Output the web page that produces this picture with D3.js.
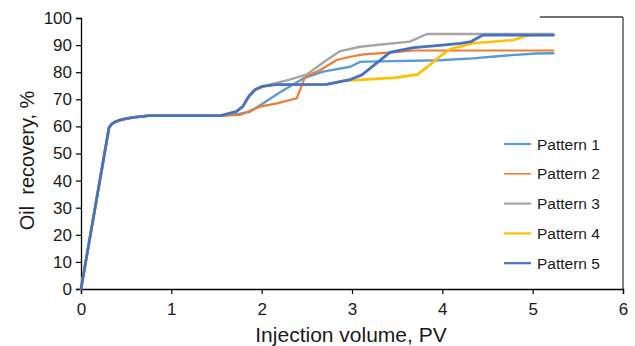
<!DOCTYPE html>
<html>
<head>
<meta charset="utf-8">
<script src="https://cdn.jsdelivr.net/npm/d3@7/dist/d3.min.js"></script>
<style>
  html, body { margin: 0; padding: 0; background: #fff; }
  svg { display: block; font-family: "Liberation Sans", Arial, sans-serif; }
</style>
</head>
<body>
<svg id="chart" width="635" height="346"></svg>
<script>
// ---- data ----
const seriesNames = ["Pattern 1", "Pattern 2", "Pattern 3", "Pattern 4", "Pattern 5"];
const xTicks = [0, 1, 2, 3, 4, 5, 6];
const yTicks = [0, 10, 20, 30, 40, 50, 60, 70, 80, 90, 100];

const pattern1 = [[0,0],[0.31,59.5],[0.34,60.9],[0.38,61.7],[0.43,62.3],[0.5,62.9],[0.6,63.4],[0.76,64],[1.55,64],[1.75,64.6],[1.87,65.4],[2.0,68.2],[2.2,72.5],[2.46,77.7],[2.68,80.2],[2.98,82],[3.09,83.8],[3.3,84],[3.97,84.4],[4.34,85.1],[4.64,86],[5.04,86.9],[5.23,87]];
const pattern2 = [[0,0],[0.31,59.5],[0.34,60.9],[0.38,61.7],[0.43,62.3],[0.5,62.9],[0.6,63.4],[0.76,64],[1.55,64],[1.76,64.2],[1.98,67.3],[2.17,68.5],[2.39,70.4],[2.48,78.3],[2.65,80.8],[2.83,84.5],[2.98,85.7],[3.13,86.6],[3.45,87.3],[3.68,88],[5.23,88]];
const pattern3 = [[0,0],[0.31,59.5],[0.34,60.9],[0.38,61.7],[0.43,62.3],[0.5,62.9],[0.6,63.4],[0.76,64],[1.55,64],[1.72,65.5],[1.79,67.3],[1.86,71.2],[1.93,73.6],[2.01,74.6],[2.1,75.5],[2.3,77.2],[2.5,79.2],[2.72,84.5],[2.87,87.8],[3.09,89.4],[3.35,90.3],[3.64,91.3],[3.83,94.1],[5.23,94.1]];
const pattern4 = [[0,0],[0.31,59.5],[0.34,60.9],[0.38,61.7],[0.43,62.3],[0.5,62.9],[0.6,63.4],[0.76,64],[1.55,64],[1.72,65.5],[1.79,67.3],[1.86,71.2],[1.93,73.6],[2.01,74.8],[2.15,75.4],[2.72,75.5],[2.9,76.8],[3.49,78],[3.73,79.2],[3.97,85.7],[4.09,88.6],[4.34,90.7],[4.79,91.9],[4.93,93.4],[5.0,93.7],[5.23,93.7]];
const pattern5 = [[0,0],[0.31,59.5],[0.34,60.9],[0.38,61.7],[0.43,62.3],[0.5,62.9],[0.6,63.4],[0.76,64],[1.55,64],[1.72,65.5],[1.79,67.3],[1.86,71.2],[1.93,73.6],[2.01,74.8],[2.15,75.4],[2.72,75.5],[2.98,77.3],[3.11,79],[3.42,87.3],[3.68,89.1],[3.97,89.9],[4.2,90.6],[4.32,91.3],[4.45,93.7],[5.23,93.7]];

const seriesData = [pattern1, pattern2, pattern3, pattern4, pattern5];
const colors = ["#5B9BD5", "#ED7D31", "#A5A5A5", "#FFC000", "#4472C4"];
const widths = [2.4, 2.2, 2.4, 2.6, 2.8];

// ---- layout ----
const svg = d3.select("#chart");
const L = 81, R = 623, T = 18, B = 289;
const x = d3.scaleLinear().domain([0, 6]).range([L, R]);
const y = d3.scaleLinear().domain([0, 100]).range([B, T]);

// right & top frame
svg.append("line").attr("x1", R).attr("x2", R).attr("y1", T - 1).attr("y2", B)
  .attr("stroke", "#404040").attr("stroke-width", 1.3);
svg.append("line").attr("x1", 540).attr("x2", R).attr("y1", T - 1).attr("y2", T - 1)
  .attr("stroke", "#404040").attr("stroke-width", 1.3);

// axes
const xAxis = svg.append("g").attr("transform", `translate(0,${B})`)
  .call(d3.axisBottom(x).tickValues(xTicks).tickFormat(d3.format("d")).tickSizeOuter(0).tickSize(5).tickPadding(9));
const yAxis = svg.append("g").attr("transform", `translate(${L},0)`)
  .call(d3.axisLeft(y).tickValues(yTicks).tickFormat(d3.format("d")).tickSizeOuter(0).tickSize(5).tickPadding(4));
[xAxis, yAxis].forEach(g => {
  g.select(".domain").attr("stroke", "#000").attr("stroke-width", 1.3);
  g.selectAll(".tick line").attr("stroke", "#000").attr("stroke-width", 1.2);
  g.selectAll(".tick text").attr("fill", "#1a1a1a").style("font-size", "17px")
    .style("font-family", "'Liberation Sans', Arial, sans-serif");
});

// lines
const line = d3.line().x(d => x(d[0])).y(d => y(d[1])).curve(d3.curveLinear);
seriesData.forEach((s, i) => {
  svg.append("path").datum(s).attr("d", line)
    .attr("fill", "none").attr("stroke", colors[i]).attr("stroke-width", widths[i])
    .attr("stroke-linejoin", "round").attr("stroke-linecap", "round");
});

// axis titles
svg.append("text").attr("x", (L + R) / 2 - 1).attr("y", 342).attr("text-anchor", "middle")
  .style("font-size", "21px").attr("fill", "#1a1a1a").text("Injection volume, PV");
svg.append("text").attr("transform", `translate(34,${(T + B) / 2 + 7}) rotate(-90)`)
  .attr("text-anchor", "middle").style("font-size", "20px").style("white-space", "pre")
  .attr("fill", "#1a1a1a").text("Oil  recovery, %");

// legend
const leg = svg.append("g");
seriesNames.forEach((n, i) => {
  const cy = 144 + i * 29.8;
  leg.append("line").attr("x1", 504).attr("x2", 531).attr("y1", cy).attr("y2", cy)
    .attr("stroke", colors[i]).attr("stroke-width", i === 1 ? 1.6 : 2.2);
  leg.append("text").attr("x", 537).attr("y", cy + 5.5).style("font-size", "15.5px")
    .attr("fill", "#1a1a1a").text(n);
});
</script>
</body>
</html>
